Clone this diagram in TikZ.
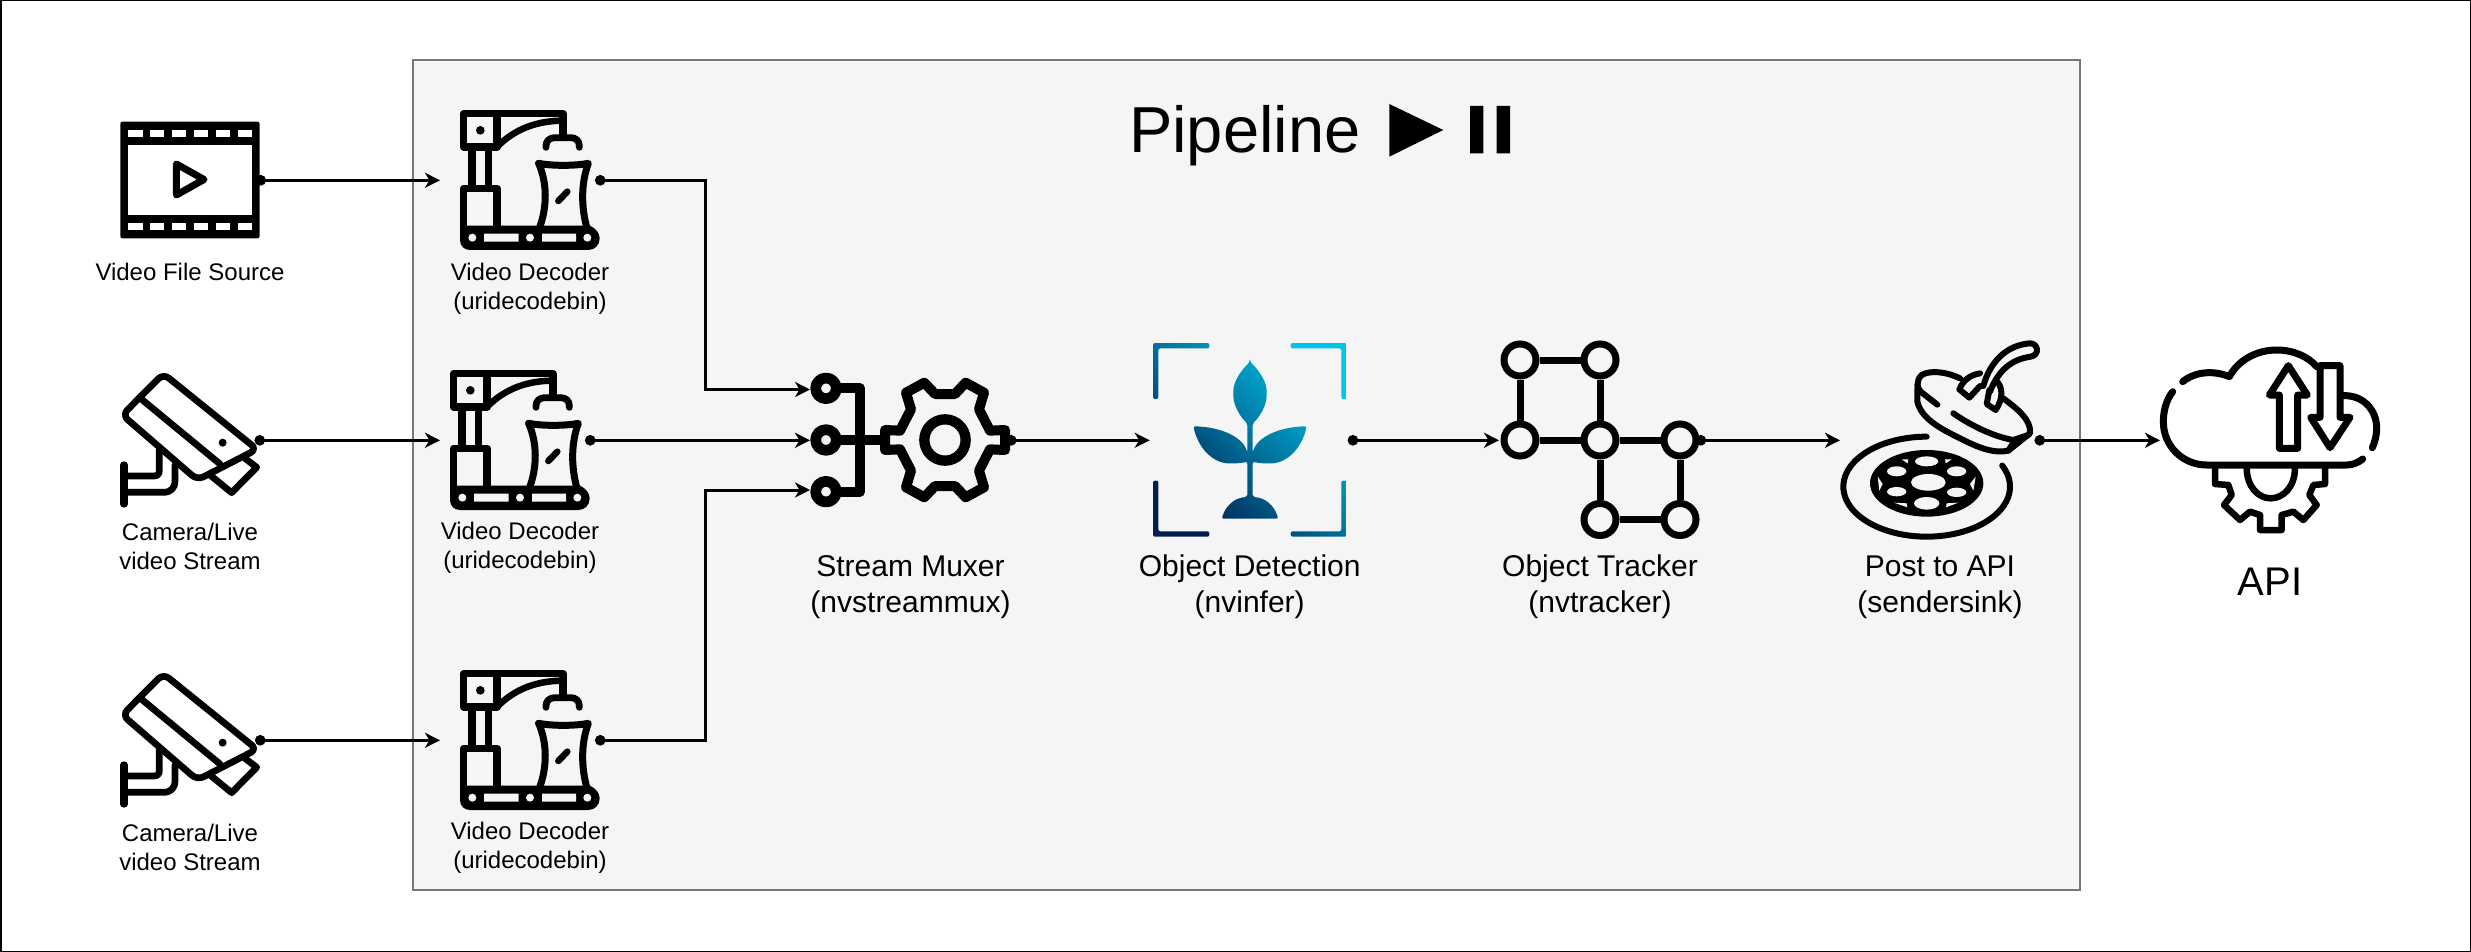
\documentclass[tikz,border=0pt]{standalone}
\usepackage{fontspec}
\setmainfont{Liberation Sans}
\usetikzlibrary{arrows.meta}
\definecolor{pipebg}{HTML}{F5F5F5}
\definecolor{pipeline}{HTML}{777777}
\definecolor{plantA}{HTML}{001F4E}
\definecolor{plantB}{HTML}{0079A8}
\definecolor{plantC}{HTML}{00C4EC}
\tikzset{
  icon/.style={x=0.33333pt,y=-0.33333pt,line cap=round,line join=round},
  st/.style={draw=black,line width=#1*1pt},
  anchorbox/.style={inner sep=0pt,outer sep=0pt,minimum height=20pt},
  small/.style={align=center,font=\fontsize{24}{29}\selectfont},
  mid/.style={align=center,font=\fontsize{30}{36}\selectfont},
  conn/.style={line width=3pt,{Circle[length=10.5pt,width=10.5pt]}-{Stealth[length=15pt,width=15pt,inset=4.5pt]}},
  trk/.style={circle,draw=black,line width=7pt,fill=pipebg,minimum size=32pt,inner sep=0pt},
  trkedge/.style={draw=black,line width=7pt},
  pics/decoder/.style={code={
    \begin{scope}[icon]
      \draw[st=7.3] (71,141) rectangle (171,41);
      \draw[st=7.3] (171,41) -- (369,41) -- (369,112);
      \draw[st=6.5] (171,141) .. controls (225,85) and (295,62) .. (369,62);
      \draw[st=6.8] (318,142) -- (318,137) .. controls (318,122) and (330,113) .. (345,113) -- (392,113) .. controls (407,113) and (418,122) .. (418,137) -- (418,142);
      \draw[st=7.6] (96,141) -- (96,265) (146,141) -- (146,265);
      \draw[st=7.3] (71,380) -- (71,265) -- (171,265) -- (171,380);
      \draw[st=7] (296,190) .. controls (335,198) and (405,198) .. (445,190) .. controls (423,250) and (423,320) .. (441,385);
      \draw[st=7] (296,190) .. controls (322,250) and (322,320) .. (298,385);
      \draw[st=6.5] (355,303) -- (382,275);
      \fill (121,91) circle[radius=13];
      \fill (60,377) -- (450,377) .. controls (466,385) and (479,398) .. (479,415) .. controls (479,435) and (465,450) .. (445,450) -- (90,450) .. controls (72,450) and (60,437) .. (60,420) -- cycle;
      \fill[pipebg] (97,413) circle[radius=12] (270,413) circle[radius=12] (442,413) circle[radius=12];
      \fill[pipebg] (132,401) rectangle (236,425) (306,401) rectangle (408,425);
    \end{scope}}},
  pics/camera/.style={code={
    \begin{scope}[icon]
      \draw[st=6.7,rounded corners=7pt] (160,41) -- (441,268) -- (262,360) -- (37,165) -- cycle;
      \draw[st=6.7] (95,118) -- (330,312);
      \draw[st=6.7] (405,295) -- (440,322) -- (365,398) -- (300,345);
      \fill (338,248) circle[radius=12];
      \draw[st=7.3] (42,315) -- (42,432);
      \draw[st=6.7] (45,348) -- (132,348) .. controls (142,348) and (148,342) .. (148,332) -- (148,268);
      \draw[st=6.7] (45,397) -- (160,397) .. controls (182,397) and (195,385) .. (195,362) -- (195,315);
    \end{scope}}},
  pics/muxicon/.style={code={
    \begin{scope}[icon]
      \draw[st=10] (78,85) -- (180,85) -- (180,395) -- (78,395);
      \draw[st=10] (78,240) -- (260,240);
      \draw[st=10.7,fill=pipebg] (78,85) circle[radius=31];
      \draw[st=10.7,fill=pipebg] (78,240) circle[radius=31];
      \draw[st=10.7,fill=pipebg] (78,395) circle[radius=31];
      \draw[st=10,fill=pipebg] (615,210) -- (615,270) -- (570,268) -- (537,332) -- (552,382) -- (497,412) -- (465,378) -- (405,378) -- (373,412) -- (318,382) -- (333,332) -- (300,268) -- (255,270) -- (255,210) -- (300,212) -- (333,148) -- (318,98) -- (373,68) -- (405,102) -- (465,102) -- (497,68) -- (552,98) -- (537,148) -- (570,212) -- cycle;
      \draw[st=10.3] (435,240) circle[radius=62];
    \end{scope}}},
  pics/planticon/.style={code={
    \begin{scope}[icon]
      \begin{scope}
        \clip[rounded corners=2pt]
          (39,24) -- (208,24) -- (208,40) -- (55,40) -- (55,192) -- (39,192) -- cycle
          (620,24) -- (452,24) -- (452,40) -- (604,40) -- (604,192) -- (620,192) -- cycle
          (39,605) -- (208,605) -- (208,589) -- (55,589) -- (55,437) -- (39,437) -- cycle
          (620,605) -- (452,605) -- (452,589) -- (604,589) -- (604,437) -- (620,437) -- cycle
          (330,80) .. controls (295,115) and (280,145) .. (280,175) .. controls (280,215) and (305,250) .. (322,265) -- (322,352) .. controls (305,300) and (230,275) .. (160,274) .. controls (175,340) and (220,388) .. (280,385) .. controls (295,385) and (310,383) .. (322,380) -- (322,486) .. controls (285,488) and (258,510) .. (245,551) -- (415,551) .. controls (402,510) and (375,488) .. (338,486) -- (338,380) .. controls (350,383) and (365,385) .. (380,385) .. controls (440,388) and (485,340) .. (500,274) .. controls (430,275) and (355,300) .. (338,352) -- (338,265) .. controls (355,250) and (380,215) .. (380,175) .. controls (380,145) and (365,115) .. (330,80) -- cycle;
        \shade[bottom color=plantA,middle color=plantB,top color=plantC,shading angle=-45] (39,24) rectangle (620,605);
      \end{scope}
    \end{scope}}},
  pics/sinkicon/.style={code={
    \begin{scope}[icon]
      \draw[st=6] plot[domain=90:385,samples=80,smooth] ({290+250*cos(\x)},{470-150*sin(\x)});
      \fill (290,460) ellipse[x radius=170,y radius=100];
      \fill[pipebg] (295,457) ellipse[x radius=52,y radius=25];
      \fill[pipebg] (290,394) ellipse[x radius=35,y radius=15];
      \fill[pipebg] (200,424) ellipse[x radius=29,y radius=15];
      \fill[pipebg] (380,424) ellipse[x radius=29,y radius=15];
      \fill[pipebg] (200,485) ellipse[x radius=29,y radius=14];
      \fill[pipebg] (380,487) ellipse[x radius=29,y radius=14];
      \fill[pipebg] (290,520) ellipse[x radius=38,y radius=19];
      \fill[pipebg] (215,388) -- (235,388) -- (233,400) -- cycle (345,388) -- (365,388) -- (347,400) -- cycle;
      \fill[pipebg] (143,440) -- (158,462) -- (148,482) -- cycle (437,440) -- (420,462) -- (430,482) -- cycle;
      \fill[pipebg] (192,518) -- (230,520) -- (232,532) -- cycle (350,520) -- (385,518) -- (348,532) -- cycle;
      \draw[st=6] (390,145) .. controls (350,125) and (300,120) .. (275,135) .. controls (262,145) and (262,160) .. (262,215) .. controls (275,270) and (340,300) .. (400,330) .. controls (440,350) and (490,372) .. (535,362) -- (600,310) .. controls (605,270) and (560,235) .. (520,205);
      \draw[st=6] (272,185) -- (322,224);
      \draw[st=6] (370,250) .. controls (420,285) and (490,320) .. (550,330) -- (595,315);
      \draw[st=6] (535,362) -- (555,330);
      \draw[st=6] (262,165) .. controls (265,175) and (268,180) .. (272,185);
      \draw[st=6] (460,168) .. controls (480,95) and (530,45) .. (600,40) .. controls (625,40) and (630,75) .. (602,80) .. controls (545,88) and (505,120) .. (480,185);
      \draw[st=6] (450,130) .. controls (420,135) and (400,150) .. (388,178) -- (418,203) -- (450,168);
      \draw[st=6] (502,155) .. controls (518,175) and (520,205) .. (497,240) -- (470,222) -- (478,180);
    \end{scope}}},
  pics/apiicon/.style={code={
    \begin{scope}[icon]
      \draw[st=7] (68,170) .. controls (48,195) and (40,230) .. (40,260) .. controls (40,335) and (100,390) .. (170,390) -- (590,390) .. controls (610,390) and (625,382) .. (638,372);
      \draw[st=7] (98,140) .. controls (135,110) and (190,105) .. (238,125) .. controls (265,75) and (320,45) .. (380,45) .. controls (430,45) and (475,65) .. (500,95);
      \draw[st=7] (580,182) .. controls (640,180) and (680,225) .. (680,280) .. controls (680,300) and (675,320) .. (667,338);
      \draw[st=7] (388,340) -- (388,180) -- (358,180) -- (415,92) -- (472,180) -- (443,180) -- (443,340) -- cycle;
      \draw[st=7] (510,92) -- (570,92) -- (570,247) -- (600,247) -- (540,338) -- (482,247) -- (510,247) -- cycle;
      \draw[st=6.5] (195,398) -- (195,447) -- (235,450) -- (245,480) -- (222,510) -- (270,555) -- (300,530) -- (330,540) -- (330,585) -- (395,585) -- (395,540) -- (430,530) -- (460,555) -- (500,510) -- (478,480) -- (490,450) -- (525,447) -- (525,398);
      \draw[st=6.5] (290,398) .. controls (290,455) and (325,490) .. (362,490) .. controls (400,490) and (435,455) .. (435,398);
    \end{scope}}}
}
\begin{document}
\begin{tikzpicture}[x=1pt,y=-1pt]
\useasboundingbox (0,0) rectangle (2471,952);
\draw[black,line width=1.5pt,fill=white] (0.75,0.75) rectangle (2470.25,951.25);
\node[draw=pipeline,fill=pipebg,line width=1.2pt,inner sep=0pt,minimum width=1667pt,minimum height=830pt] (pipebox) at (1246.5,475) {};
% title
\node[anchor=base west,inner sep=0pt,font=\fontsize{65}{78}\selectfont] (title) at (1129,152.7) {Pipeline};
\fill (1389.3,104) -- (1443.3,130) -- (1389.3,156.7) -- cycle;
\fill (1470,106) rectangle (1483.3,153.3) (1496.7,106) rectangle (1510,153.3);
% video icon
\fill[rounded corners=2pt] (120.4,121.7) rectangle (259.6,238.3);
\fill[white] (127.5,145) rectangle (252,215);
\foreach \a/\b in {127.5/142.5,150.4/164.3,172/186,194/208,215.7/230,238/252}{
  \fill[white] (\a,130) rectangle (\b,137.3);
  \fill[white] (\a,222.7) rectangle (\b,230);
}
\draw[line width=7pt,line join=round] (176.4,164) -- (204,179.5) -- (176.4,195) -- cycle;
% icons
\pic at (440,100) {decoder};
\pic at (430,360) {decoder};
\pic at (440,660) {decoder};
\pic at (110,360) {camera};
\pic at (110,660) {camera};
\pic at (800,360) {muxicon};
\pic at (1140,335) {planticon};
\pic at (1830,330) {sinkicon};
\pic at (2150,335) {apiicon};
% tracker
\node[trk] (t1) at (1520,360) {};
\node[trk] (t2) at (1600,360) {};
\node[trk] (t3) at (1520,440) {};
\node[trk] (t4) at (1600,440) {};
\node[trk] (t5) at (1680,440) {};
\node[trk] (t6) at (1600,519.5) {};
\node[trk] (t7) at (1680,519.5) {};
\foreach \a/\b in {t1/t2,t1/t3,t2/t4,t3/t4,t4/t5,t4/t6,t5/t7,t6/t7}{\draw[trkedge] (\a) -- (\b);}
% anchor boxes for the connectors
\node[anchorbox,minimum width=0pt] (srcv) at (255.5,180.3) {};
\node[anchorbox,minimum width=0pt] (cam1) at (254.5,440.3) {};
\node[anchorbox,minimum width=0pt] (cam2) at (255,740.3) {};
\node[anchorbox,minimum width=155pt] (dec1) at (517.5,180.3) {};
\node[anchorbox,minimum width=145pt] (dec2) at (512.5,440.3) {};
\node[anchorbox,minimum width=155pt] (dec3) at (517.5,740.3) {};
\coordinate (muxa) at (810,389.5);
\coordinate (muxb) at (810,440.3);
\coordinate (muxc) at (810,490);
\coordinate (elbow) at (705.5,440.3);
\node[anchorbox,minimum width=0pt] (muxout) at (1006,440.3) {};
\node[anchorbox,minimum width=198pt] (det) at (1248.7,440.3) {};
\node[anchorbox,minimum width=0pt] (trkout) at (1695.5,440.3) {};
\node[anchorbox,minimum width=0pt] (trkin) at (1499,440.3) {};
\node[anchorbox,minimum width=0pt] (sinkin) at (1840,440.3) {};
\node[anchorbox,minimum width=0pt] (sinkout) at (2034.5,440.3) {};
\node[anchorbox,minimum width=0pt] (apiin) at (2160,440.3) {};
% connectors
\draw[conn] (srcv.east) -- (dec1.west);
\draw[conn] (cam1.east) -- (dec2.west);
\draw[conn] (cam2.east) -- (dec3.west);
\draw[conn] (dec1.east) -- (dec1.east -| elbow) -- (elbow |- muxa) -- (muxa);
\draw[conn] (dec2.east) -- (muxb);
\draw[conn] (dec3.east) -- (dec3.east -| elbow) -- (elbow |- muxc) -- (muxc);
\draw[conn] (muxout.east) -- (det.west);
\draw[conn] (det.east) -- (trkin.west);
\draw[conn] (trkout.east) -- (sinkin.west);
\draw[conn] (sinkout.east) -- (apiin.west);
% labels
\node[small] (l1) at (190,272) {Video File Source};
\node[small] (l2) at (190,546.5) {Camera/Live\\video Stream};
\node[small] (l3) at (190,847) {Camera/Live\\video Stream};
\node[small] (l4) at (530,288.5) {Video Decoder\\(uridecodebin)};
\node[small] (l5) at (520,548) {Video Decoder\\(uridecodebin)};
\node[small] (l6) at (530,847.5) {Video Decoder\\(uridecodebin)};
\node[mid] (l7) at (910.5,587) {Stream Muxer\\(nvstreammux)};
\node[mid] (l8) at (1249.7,587) {Object Detection\\(nvinfer)};
\node[mid] (l9) at (1600,587) {Object Tracker\\(nvtracker)};
\node[mid] (l10) at (1940,587) {Post to API\\(sendersink)};
\node[font=\fontsize{40}{48}\selectfont] (l11) at (2270,582) {API};
\end{tikzpicture}
\end{document}
